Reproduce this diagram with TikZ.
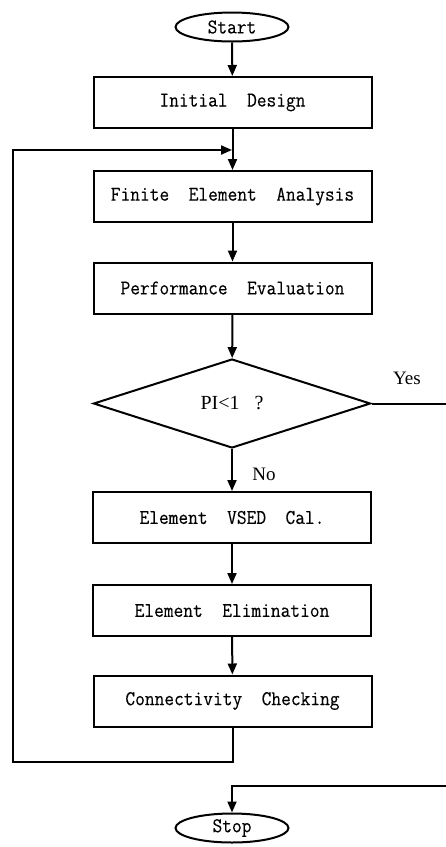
\documentclass[tikz,border=0pt]{standalone}
\usepackage{fontspec}
\setmainfont{Liberation Serif}
\setmonofont[FakeStretch=0.9,FakeBold=0.2]{Latin Modern Mono}
\usetikzlibrary{shapes.geometric,arrows.meta}
\begin{document}
\begin{tikzpicture}[x=1pt,y=-1pt,
  line width=2pt,
  proc/.style={draw,rectangle,minimum width=278pt,minimum height=51pt,inner sep=0pt,
    font=\ttfamily\fontsize{21}{23}\selectfont},
  term/.style={draw,ellipse,minimum width=113pt,minimum height=29pt,inner sep=0pt,
    font=\ttfamily\fontsize{21}{23}\selectfont},
  dec/.style={draw,diamond,minimum width=277pt,minimum height=89pt,inner sep=0pt,
    font=\fontsize{20}{22}\selectfont},
  lbl/.style={font=\fontsize{19}{21}\selectfont,inner sep=0pt},
  arr/.style={-{Triangle[length=11pt,width=9pt]}}
]
\useasboundingbox (0,0) rectangle (446,847);
\node[term] (start) at (232,27) {Start};
\node[proc] (init) at (232.5,102.5) {Initial~~Design};
\node[proc] (fea) at (232.5,196.5) {Finite~~Element~~Analysis};
\node[proc] (perf) at (232.5,288) {Performance~~Evaluation};
\node[dec] (cond) at (232,403.5) {PI<1\ \ \ ?};
\node[proc] (vsed) at (232,517.5) {Element~~VSED~~Cal.};
\node[proc] (elim) at (232,610.5) {Element~~Elimination};
\node[proc] (conn) at (232.5,701) {Connectivity~~Checking};
\node[term] (stop) at (232,828) {Stop};
\node[lbl] (yes) at (407,378) {Yes};
\node[lbl] (no) at (264,474) {No};
\coordinate (join) at (232,150);
\coordinate (lb) at (232,762);
\coordinate (lbl1) at (13,762);
\coordinate (lt) at (13,150);
\coordinate (yesend) at (447,403.5);
\coordinate (stopin) at (447,786);
\coordinate (stopc) at (232,786);
\draw[arr] (start) -- (init);
\draw[arr] (init) -- (fea);
\draw[arr] (fea) -- (perf);
\draw[arr] (perf) -- (cond);
\draw[arr] (cond) -- (vsed);
\draw[arr] (vsed) -- (elim);
\draw[arr] (elim) -- (conn);
\draw[arr] (conn.south) |- (lbl1) -- (lt) -- (join);
\draw (cond.east) -- (yesend);
\draw[arr] (stopin) -- (stopc) -- (stop);
\end{tikzpicture}
\end{document}
